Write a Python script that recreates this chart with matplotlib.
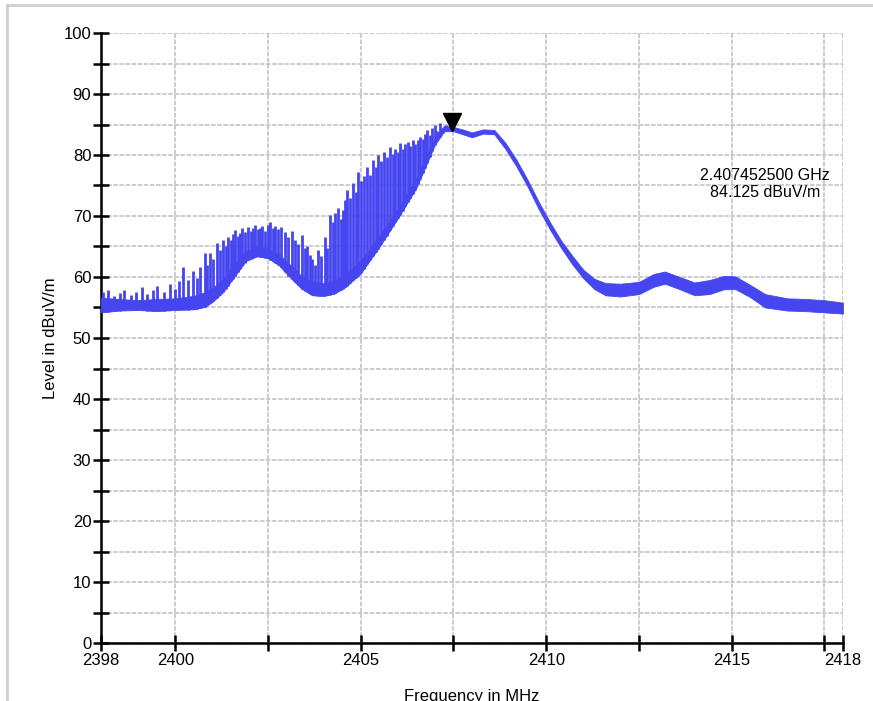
import numpy as np
import matplotlib.pyplot as plt
from matplotlib.lines import Line2D
from matplotlib.transforms import offset_copy

plt.rcParams['font.family'] = ['Liberation Sans', 'DejaVu Sans']

# noise band of the trace (MHz, lower edge, upper edge in dBuV/m)
band_freq = [2398.0, 2398.5, 2399.0, 2399.5, 2400.0, 2400.5, 2400.8, 2401.0, 2401.3, 2401.6,
             2401.9, 2402.2, 2402.5, 2402.8, 2403.1, 2403.4, 2403.7, 2404.0, 2404.3, 2404.6,
             2405.0, 2405.5, 2406.0, 2406.5, 2407.0, 2407.25, 2407.5, 2407.8, 2408.0, 2408.3,
             2408.6, 2408.9, 2409.2, 2409.5, 2409.8, 2410.1, 2410.4, 2410.7, 2411.0, 2411.3,
             2411.6, 2412.0, 2412.5, 2412.9, 2413.2, 2413.6, 2414.0, 2414.4, 2414.8, 2415.1,
             2415.5, 2415.9, 2416.5, 2417.0, 2417.5, 2418.0]
band_low = [54.2, 54.5, 54.6, 54.4, 54.6, 54.7, 55.1, 55.9, 57.6, 60.1,
            62.6, 63.4, 63.1, 61.9, 59.9, 58.1, 57.0, 56.9, 57.3, 58.4,
            60.6, 64.9, 69.6, 74.6, 81.7, 83.9, 83.9, 83.3, 82.9, 83.5,
            83.4, 81.0, 78.1, 74.8, 71.1, 67.8, 64.8, 62.1, 59.8, 58.0,
            57.0, 56.8, 57.2, 58.4, 58.9, 58.0, 57.0, 57.2, 58.0, 58.0,
            56.7, 55.0, 54.5, 54.4, 54.2, 54.0]
band_high = [56.6, 56.4, 56.2, 56.4, 56.5, 56.9, 57.5, 58.2, 59.7, 62.2,
             64.2, 65.0, 64.7, 63.7, 62.0, 60.2, 59.2, 59.0, 59.4, 60.5,
             62.7, 66.7, 71.2, 76.2, 82.8, 84.8, 84.6, 84.1, 83.7, 84.2,
             84.1, 82.0, 79.2, 75.9, 72.3, 69.0, 66.0, 63.5, 61.2, 59.7,
             59.0, 58.9, 59.2, 60.5, 60.9, 60.0, 59.1, 59.5, 60.2, 60.1,
             58.7, 57.2, 56.5, 56.4, 56.2, 55.8]

# spikes above the band (MHz, top in dBuV/m)
spike_freq = [2398.05, 2398.2, 2398.35, 2398.5, 2398.62, 2398.8, 2398.95, 2399.1, 2399.25, 2399.4,
              2399.52, 2399.7, 2399.85, 2400.0, 2400.1, 2400.21, 2400.35, 2400.48, 2400.58, 2400.67,
              2400.8, 2400.87, 2400.94, 2401.03, 2401.13, 2401.2, 2401.29, 2401.36, 2401.42, 2401.5,
              2401.55, 2401.61, 2401.68, 2401.74, 2401.8, 2401.87, 2401.96, 2402.03, 2402.1, 2402.15,
              2402.22, 2402.28, 2402.34, 2402.42, 2402.5, 2402.56, 2402.63, 2402.7, 2402.78, 2402.85,
              2402.96, 2403.05, 2403.15, 2403.23, 2403.3, 2403.42, 2403.5, 2403.55, 2403.62, 2403.69,
              2403.77, 2403.85, 2403.93, 2404.04, 2404.1, 2404.17, 2404.24, 2404.31, 2404.39, 2404.46,
              2404.52, 2404.58, 2404.63, 2404.7, 2404.79, 2404.86, 2404.93, 2405.0, 2405.08, 2405.17,
              2405.25, 2405.33, 2405.4, 2405.47, 2405.55, 2405.62, 2405.7, 2405.79, 2405.86, 2405.93,
              2406.0, 2406.06, 2406.13, 2406.2, 2406.27, 2406.34, 2406.4, 2406.47, 2406.54, 2406.6,
              2406.67, 2406.73, 2406.79, 2406.86, 2406.93, 2407.0, 2407.07, 2407.15, 2407.22, 2407.3]
spike_top = [57.5, 57.9, 56.9, 57.4, 57.9, 57.0, 57.6, 58.3, 57.2, 57.8,
             58.6, 57.6, 58.9, 58.0, 59.4, 61.6, 59.5, 61.0, 59.8, 61.6,
             64.0, 62.0, 64.0, 63.0, 65.5, 64.5, 66.0, 65.0, 66.5, 66.0,
             67.0, 67.7, 66.8, 67.2, 68.0, 67.4, 68.2, 67.6, 68.0, 68.5,
             67.8, 68.1, 68.3, 67.5, 68.6, 69.0, 68.0, 68.4, 67.8, 68.2,
             67.4, 66.6, 67.5, 66.0, 65.4, 66.9, 64.8, 65.0, 63.6, 63.0,
             62.0, 64.4, 63.5, 66.6, 64.8, 70.2, 69.0, 70.5, 71.3, 69.5,
             71.0, 72.6, 74.3, 73.0, 75.4, 74.0, 77.2, 75.8, 76.5, 78.0,
             76.8, 79.2, 78.0, 80.0, 79.0, 80.5, 79.6, 81.3, 80.2, 81.0,
             80.5, 82.0, 81.0, 81.8, 82.2, 81.5, 82.4, 81.8, 82.5, 83.0,
             82.6, 83.5, 84.1, 83.2, 84.5, 84.9, 84.0, 85.2, 84.4, 85.0]

marker_f = 2407.4525
marker_lvl = 84.125

x_ticks = [2398, 2400, 2402.5, 2405, 2407.5, 2410, 2412.5, 2415, 2417.5, 2418]
x_labels = ['2398', '2400', '', '2405', '', '2410', '', '2415', '', '2418']

blue = '#4646f0'

fig = plt.figure(figsize=(8.73, 7.01), dpi=100)
ax = fig.add_axes([101 / 873, 58 / 701, 742 / 873, 610 / 701])

# trace
ax.fill_between(band_freq, band_low, band_high, color=blue, lw=0.6, edgecolor=blue, zorder=3)
spike_base = np.interp(spike_freq, band_freq, band_low)
ax.vlines(spike_freq, spike_base, spike_top, color=blue, lw=2.0, zorder=3)

# peak marker, tip on the point
tr = offset_copy(ax.transData, fig=fig, x=0, y=6, units='points')
ax.plot([marker_f], [marker_lvl], marker='v', color='black', markersize=13,
        transform=tr, zorder=5, clip_on=False)
ax.text(2415.9, 75.2, '2.407452500 GHz\n84.125 dBuV/m', ha='center', va='center',
        fontsize=11.5, linespacing=1.2)

ax.set_xlim(2398, 2418)
ax.set_ylim(0, 100)
ax.set_xticks(x_ticks)
ax.set_xticklabels(x_labels)
ax.set_yticks(np.arange(0, 101, 10))
ax.set_yticks(np.arange(5, 100, 10), minor=True)

ax.grid(True, which='both', color='#bebebe', linestyle=(0, (3, 1)), linewidth=1.1)
ax.set_axisbelow(True)
for s in ['top', 'right']:
    ax.spines[s].set_visible(False)
for s in ['left', 'bottom']:
    ax.spines[s].set_linewidth(1.8)
ax.tick_params(which='both', direction='inout', length=12, width=1.8, labelsize=12, pad=1)

ax.set_xlabel('Frequency in MHz', fontsize=12, labelpad=15)
ax.set_ylabel('Level in dBuV/m', fontsize=12, labelpad=4)

# light frame of the original screenshot
fig.add_artist(Line2D([7 / 873, 1.0], [1 - 5 / 701, 1 - 5 / 701], color='#cfcfcf', lw=2))
fig.add_artist(Line2D([7 / 873, 7 / 873], [0.0, 1 - 5 / 701], color='#cfcfcf', lw=2))

fig.savefig('out.png', dpi=100)
